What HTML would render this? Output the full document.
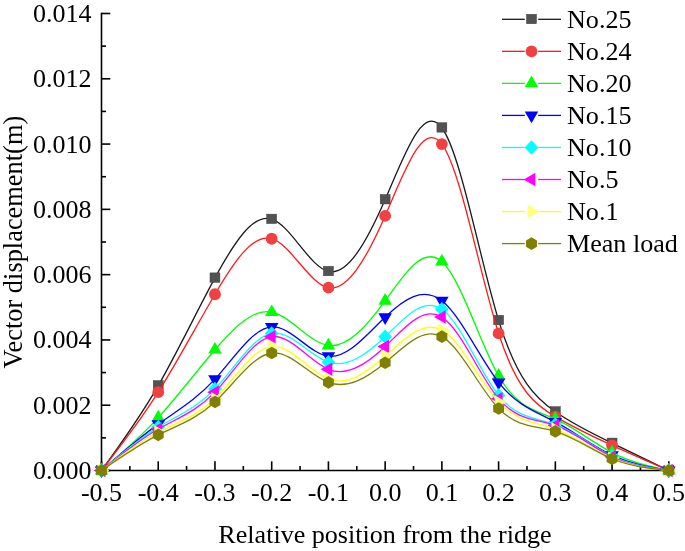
<!DOCTYPE html>
<html><head><meta charset="utf-8"><style>
html,body{margin:0;padding:0;background:#fff;}
svg{display:block;will-change:transform;}
text{font-family:"Liberation Serif",serif;font-size:26.1px;fill:#000;}
text.t{font-size:26px;}
</style></head><body>
<svg width="685" height="551" viewBox="0 0 685 551">
<rect width="685" height="551" fill="#fff"/>
<line x1="101.50" y1="12.70" x2="101.50" y2="471.30" stroke="#000" stroke-width="1.6"/>
<line x1="100.70" y1="470.50" x2="668.80" y2="470.50" stroke="#000" stroke-width="1.6"/>
<line x1="101.50" y1="470.50" x2="110.30" y2="470.50" stroke="#000" stroke-width="1.6"/>
<line x1="101.50" y1="437.86" x2="106.00" y2="437.86" stroke="#000" stroke-width="1.6"/>
<line x1="101.50" y1="405.21" x2="110.30" y2="405.21" stroke="#000" stroke-width="1.6"/>
<line x1="101.50" y1="372.57" x2="106.00" y2="372.57" stroke="#000" stroke-width="1.6"/>
<line x1="101.50" y1="339.93" x2="110.30" y2="339.93" stroke="#000" stroke-width="1.6"/>
<line x1="101.50" y1="307.29" x2="106.00" y2="307.29" stroke="#000" stroke-width="1.6"/>
<line x1="101.50" y1="274.64" x2="110.30" y2="274.64" stroke="#000" stroke-width="1.6"/>
<line x1="101.50" y1="242.00" x2="106.00" y2="242.00" stroke="#000" stroke-width="1.6"/>
<line x1="101.50" y1="209.36" x2="110.30" y2="209.36" stroke="#000" stroke-width="1.6"/>
<line x1="101.50" y1="176.71" x2="106.00" y2="176.71" stroke="#000" stroke-width="1.6"/>
<line x1="101.50" y1="144.07" x2="110.30" y2="144.07" stroke="#000" stroke-width="1.6"/>
<line x1="101.50" y1="111.43" x2="106.00" y2="111.43" stroke="#000" stroke-width="1.6"/>
<line x1="101.50" y1="78.79" x2="110.30" y2="78.79" stroke="#000" stroke-width="1.6"/>
<line x1="101.50" y1="46.14" x2="106.00" y2="46.14" stroke="#000" stroke-width="1.6"/>
<line x1="101.50" y1="13.50" x2="110.30" y2="13.50" stroke="#000" stroke-width="1.6"/>
<line x1="101.50" y1="470.50" x2="101.50" y2="461.30" stroke="#000" stroke-width="1.6"/>
<line x1="129.86" y1="470.50" x2="129.86" y2="466.00" stroke="#000" stroke-width="1.6"/>
<line x1="158.23" y1="470.50" x2="158.23" y2="461.30" stroke="#000" stroke-width="1.6"/>
<line x1="186.59" y1="470.50" x2="186.59" y2="466.00" stroke="#000" stroke-width="1.6"/>
<line x1="214.96" y1="470.50" x2="214.96" y2="461.30" stroke="#000" stroke-width="1.6"/>
<line x1="243.32" y1="470.50" x2="243.32" y2="466.00" stroke="#000" stroke-width="1.6"/>
<line x1="271.69" y1="470.50" x2="271.69" y2="461.30" stroke="#000" stroke-width="1.6"/>
<line x1="300.06" y1="470.50" x2="300.06" y2="466.00" stroke="#000" stroke-width="1.6"/>
<line x1="328.42" y1="470.50" x2="328.42" y2="461.30" stroke="#000" stroke-width="1.6"/>
<line x1="356.78" y1="470.50" x2="356.78" y2="466.00" stroke="#000" stroke-width="1.6"/>
<line x1="385.15" y1="470.50" x2="385.15" y2="461.30" stroke="#000" stroke-width="1.6"/>
<line x1="413.51" y1="470.50" x2="413.51" y2="466.00" stroke="#000" stroke-width="1.6"/>
<line x1="441.88" y1="470.50" x2="441.88" y2="461.30" stroke="#000" stroke-width="1.6"/>
<line x1="470.25" y1="470.50" x2="470.25" y2="466.00" stroke="#000" stroke-width="1.6"/>
<line x1="498.61" y1="470.50" x2="498.61" y2="461.30" stroke="#000" stroke-width="1.6"/>
<line x1="526.97" y1="470.50" x2="526.97" y2="466.00" stroke="#000" stroke-width="1.6"/>
<line x1="555.34" y1="470.50" x2="555.34" y2="461.30" stroke="#000" stroke-width="1.6"/>
<line x1="583.70" y1="470.50" x2="583.70" y2="466.00" stroke="#000" stroke-width="1.6"/>
<line x1="612.07" y1="470.50" x2="612.07" y2="461.30" stroke="#000" stroke-width="1.6"/>
<line x1="640.43" y1="470.50" x2="640.43" y2="466.00" stroke="#000" stroke-width="1.6"/>
<line x1="668.80" y1="470.50" x2="668.80" y2="461.30" stroke="#000" stroke-width="1.6"/>
<text class="t" x="91.4" y="479.00" text-anchor="end">0.000</text>
<text class="t" x="91.4" y="413.71" text-anchor="end">0.002</text>
<text class="t" x="91.4" y="348.43" text-anchor="end">0.004</text>
<text class="t" x="91.4" y="283.14" text-anchor="end">0.006</text>
<text class="t" x="91.4" y="217.86" text-anchor="end">0.008</text>
<text class="t" x="91.4" y="152.57" text-anchor="end">0.010</text>
<text class="t" x="91.4" y="87.29" text-anchor="end">0.012</text>
<text class="t" x="91.4" y="22.00" text-anchor="end">0.014</text>
<text class="t" x="101.50" y="500.5" text-anchor="middle">-0.5</text>
<text class="t" x="158.23" y="500.5" text-anchor="middle">-0.4</text>
<text class="t" x="214.96" y="500.5" text-anchor="middle">-0.3</text>
<text class="t" x="271.69" y="500.5" text-anchor="middle">-0.2</text>
<text class="t" x="328.42" y="500.5" text-anchor="middle">-0.1</text>
<text class="t" x="385.15" y="500.5" text-anchor="middle">0.0</text>
<text class="t" x="441.88" y="500.5" text-anchor="middle">0.1</text>
<text class="t" x="498.61" y="500.5" text-anchor="middle">0.2</text>
<text class="t" x="555.34" y="500.5" text-anchor="middle">0.3</text>
<text class="t" x="612.07" y="500.5" text-anchor="middle">0.4</text>
<text class="t" x="668.80" y="500.5" text-anchor="middle">0.5</text>
<text x="385" y="543" text-anchor="middle">Relative position from the ridge</text>
<text transform="translate(21.7,242.2) rotate(-90)" text-anchor="middle" style="font-size:26.4px">Vector displacement(m)</text>
<path d="M101.50,470.50 C120.41,444.53 139.32,418.57 158.23,385.63 C177.14,352.69 196.05,312.78 214.96,277.91 C233.87,243.03 252.78,213.18 271.69,219.15 C290.60,225.12 309.51,266.90 328.42,271.38 C347.33,275.86 366.24,243.02 385.15,199.56 C404.06,156.10 422.97,102.01 441.88,127.75 C460.79,153.49 479.70,259.05 498.61,320.34 C517.52,381.64 536.43,398.67 555.34,411.74 C574.25,424.82 593.16,433.95 612.07,443.08 C630.98,452.21 649.89,461.36 668.80,470.50" fill="none" stroke="#1a1a1a" stroke-width="1.3"/>
<rect x="96.55" y="465.50" width="9.90" height="9.40" fill="#525252" stroke="#3c3c3c" stroke-width="0.5"/>
<rect x="153.28" y="380.63" width="9.90" height="9.40" fill="#525252" stroke="#3c3c3c" stroke-width="0.5"/>
<rect x="210.01" y="272.91" width="9.90" height="9.40" fill="#525252" stroke="#3c3c3c" stroke-width="0.5"/>
<rect x="266.74" y="214.15" width="9.90" height="9.40" fill="#525252" stroke="#3c3c3c" stroke-width="0.5"/>
<rect x="323.47" y="266.38" width="9.90" height="9.40" fill="#525252" stroke="#3c3c3c" stroke-width="0.5"/>
<rect x="380.20" y="194.56" width="9.90" height="9.40" fill="#525252" stroke="#3c3c3c" stroke-width="0.5"/>
<rect x="436.93" y="122.75" width="9.90" height="9.40" fill="#525252" stroke="#3c3c3c" stroke-width="0.5"/>
<rect x="493.66" y="315.34" width="9.90" height="9.40" fill="#525252" stroke="#3c3c3c" stroke-width="0.5"/>
<rect x="550.39" y="406.74" width="9.90" height="9.40" fill="#525252" stroke="#3c3c3c" stroke-width="0.5"/>
<rect x="607.12" y="438.08" width="9.90" height="9.40" fill="#525252" stroke="#3c3c3c" stroke-width="0.5"/>
<rect x="663.85" y="465.50" width="9.90" height="9.40" fill="#525252" stroke="#3c3c3c" stroke-width="0.5"/>
<path d="M101.50,470.50 C120.41,446.31 139.32,422.12 158.23,392.16 C177.14,362.20 196.05,326.47 214.96,294.23 C233.87,261.99 252.78,233.24 271.69,238.74 C290.60,244.24 309.51,283.99 328.42,287.70 C347.33,291.41 366.24,259.08 385.15,215.89 C404.06,172.70 422.97,118.65 441.88,144.07 C460.79,169.49 479.70,274.38 498.61,333.40 C517.52,392.42 536.43,405.56 555.34,416.64 C574.25,427.72 593.16,436.73 612.07,445.37 C630.98,454.00 649.89,462.25 668.80,470.50" fill="none" stroke="#ff1a1a" stroke-width="1.3"/>
<circle cx="101.50" cy="470.50" r="5.9" fill="#ef4141"/>
<circle cx="158.23" cy="392.16" r="5.9" fill="#ef4141"/>
<circle cx="214.96" cy="294.23" r="5.9" fill="#ef4141"/>
<circle cx="271.69" cy="238.74" r="5.9" fill="#ef4141"/>
<circle cx="328.42" cy="287.70" r="5.9" fill="#ef4141"/>
<circle cx="385.15" cy="215.89" r="5.9" fill="#ef4141"/>
<circle cx="441.88" cy="144.07" r="5.9" fill="#ef4141"/>
<circle cx="498.61" cy="333.40" r="5.9" fill="#ef4141"/>
<circle cx="555.34" cy="416.64" r="5.9" fill="#ef4141"/>
<circle cx="612.07" cy="445.37" r="5.9" fill="#ef4141"/>
<circle cx="668.80" cy="470.50" r="5.9" fill="#ef4141"/>
<path d="M101.50,470.50 C120.41,454.37 139.32,438.24 158.23,417.62 C177.14,397.00 196.05,371.88 214.96,349.72 C233.87,327.57 252.78,308.37 271.69,312.18 C290.60,315.99 309.51,342.81 328.42,345.48 C347.33,348.14 366.24,326.65 385.15,300.76 C404.06,274.87 422.97,244.58 441.88,261.59 C460.79,278.59 479.70,342.88 498.61,375.84 C517.52,408.79 536.43,410.42 555.34,418.92 C574.25,427.43 593.16,442.80 612.07,452.55 C630.98,462.29 649.89,466.39 668.80,470.50" fill="none" stroke="#00ff00" stroke-width="1.3"/>
<polygon points="101.50,462.70 108.25,474.40 94.75,474.40" fill="#00ff00"/>
<polygon points="158.23,409.82 164.98,421.52 151.48,421.52" fill="#00ff00"/>
<polygon points="214.96,341.92 221.71,353.62 208.21,353.62" fill="#00ff00"/>
<polygon points="271.69,304.38 278.44,316.08 264.94,316.08" fill="#00ff00"/>
<polygon points="328.42,337.68 335.17,349.38 321.67,349.38" fill="#00ff00"/>
<polygon points="385.15,292.96 391.90,304.66 378.40,304.66" fill="#00ff00"/>
<polygon points="441.88,253.79 448.63,265.49 435.13,265.49" fill="#00ff00"/>
<polygon points="498.61,368.04 505.36,379.74 491.86,379.74" fill="#00ff00"/>
<polygon points="555.34,411.12 562.09,422.82 548.59,422.82" fill="#00ff00"/>
<polygon points="612.07,444.75 618.82,456.45 605.32,456.45" fill="#00ff00"/>
<polygon points="668.80,462.70 675.55,474.40 662.05,474.40" fill="#00ff00"/>
<path d="M101.50,470.50 C120.41,454.12 139.32,437.74 158.23,424.15 C177.14,410.55 196.05,399.73 214.96,379.10 C233.87,358.47 252.78,328.02 271.69,326.87 C290.60,325.72 309.51,353.87 328.42,356.25 C347.33,358.63 366.24,335.26 385.15,317.08 C404.06,298.90 422.97,285.91 441.88,300.76 C460.79,315.61 479.70,358.29 498.61,382.36 C517.52,406.44 536.43,411.90 555.34,421.86 C574.25,431.83 593.16,446.30 612.07,455.16 C630.98,464.02 649.89,467.26 668.80,470.50" fill="none" stroke="#0000ff" stroke-width="1.3"/>
<polygon points="101.50,478.30 94.75,466.60 108.25,466.60" fill="#0000ff"/>
<polygon points="158.23,431.95 151.48,420.25 164.98,420.25" fill="#0000ff"/>
<polygon points="214.96,386.90 208.21,375.20 221.71,375.20" fill="#0000ff"/>
<polygon points="271.69,334.67 264.94,322.97 278.44,322.97" fill="#0000ff"/>
<polygon points="328.42,364.05 321.67,352.35 335.17,352.35" fill="#0000ff"/>
<polygon points="385.15,324.88 378.40,313.18 391.90,313.18" fill="#0000ff"/>
<polygon points="441.88,308.56 435.13,296.86 448.63,296.86" fill="#0000ff"/>
<polygon points="498.61,390.16 491.86,378.46 505.36,378.46" fill="#0000ff"/>
<polygon points="555.34,429.66 548.59,417.96 562.09,417.96" fill="#0000ff"/>
<polygon points="612.07,462.96 605.32,451.26 618.82,451.26" fill="#0000ff"/>
<polygon points="668.80,478.30 662.05,466.60 675.55,466.60" fill="#0000ff"/>
<path d="M101.50,470.50 C120.41,454.53 139.32,438.56 158.23,427.08 C177.14,415.61 196.05,408.62 214.96,388.89 C233.87,369.17 252.78,336.70 271.69,333.40 C290.60,330.10 309.51,355.96 328.42,362.13 C347.33,368.29 366.24,354.74 385.15,336.66 C404.06,318.59 422.97,295.97 441.88,309.24 C460.79,322.52 479.70,371.67 498.61,395.42 C517.52,419.17 536.43,417.51 555.34,424.47 C574.25,431.44 593.16,447.03 612.07,456.14 C630.98,465.25 649.89,467.87 668.80,470.50" fill="none" stroke="#00ffff" stroke-width="1.3"/>
<polygon points="101.50,463.30 108.40,470.50 101.50,477.70 94.60,470.50" fill="#00ffff"/>
<polygon points="158.23,419.88 165.13,427.08 158.23,434.28 151.33,427.08" fill="#00ffff"/>
<polygon points="214.96,381.69 221.86,388.89 214.96,396.09 208.06,388.89" fill="#00ffff"/>
<polygon points="271.69,326.20 278.59,333.40 271.69,340.60 264.79,333.40" fill="#00ffff"/>
<polygon points="328.42,354.93 335.32,362.13 328.42,369.33 321.52,362.13" fill="#00ffff"/>
<polygon points="385.15,329.46 392.05,336.66 385.15,343.86 378.25,336.66" fill="#00ffff"/>
<polygon points="441.88,302.04 448.78,309.24 441.88,316.44 434.98,309.24" fill="#00ffff"/>
<polygon points="498.61,388.22 505.51,395.42 498.61,402.62 491.71,395.42" fill="#00ffff"/>
<polygon points="555.34,417.27 562.24,424.47 555.34,431.67 548.44,424.47" fill="#00ffff"/>
<polygon points="612.07,448.94 618.97,456.14 612.07,463.34 605.17,456.14" fill="#00ffff"/>
<polygon points="668.80,463.30 675.70,470.50 668.80,477.70 661.90,470.50" fill="#00ffff"/>
<path d="M101.50,470.50 C120.41,455.19 139.32,439.87 158.23,429.04 C177.14,418.22 196.05,411.87 214.96,392.16 C233.87,372.44 252.78,339.35 271.69,336.66 C290.60,333.98 309.51,361.70 328.42,369.31 C347.33,376.91 366.24,364.40 385.15,346.46 C404.06,328.52 422.97,305.15 441.88,317.08 C460.79,329.01 479.70,376.24 498.61,398.69 C517.52,421.13 536.43,418.79 555.34,425.45 C574.25,432.12 593.16,447.78 612.07,456.79 C630.98,465.80 649.89,468.15 668.80,470.50" fill="none" stroke="#ff00ff" stroke-width="1.3"/>
<polygon points="93.70,470.50 105.40,463.75 105.40,477.25" fill="#ff00ff"/>
<polygon points="150.43,429.04 162.13,422.29 162.13,435.80" fill="#ff00ff"/>
<polygon points="207.16,392.16 218.86,385.40 218.86,398.91" fill="#ff00ff"/>
<polygon points="263.89,336.66 275.59,329.91 275.59,343.42" fill="#ff00ff"/>
<polygon points="320.62,369.31 332.32,362.55 332.32,376.06" fill="#ff00ff"/>
<polygon points="377.35,346.46 389.05,339.70 389.05,353.21" fill="#ff00ff"/>
<polygon points="434.08,317.08 445.78,310.32 445.78,323.83" fill="#ff00ff"/>
<polygon points="490.81,398.69 502.51,391.93 502.51,405.44" fill="#ff00ff"/>
<polygon points="547.54,425.45 559.24,418.70 559.24,432.21" fill="#ff00ff"/>
<polygon points="604.27,456.79 615.97,450.04 615.97,463.54" fill="#ff00ff"/>
<polygon points="661.00,470.50 672.70,463.75 672.70,477.25" fill="#ff00ff"/>
<path d="M101.50,470.50 C120.41,456.12 139.32,441.73 158.23,431.98 C177.14,422.23 196.05,417.11 214.96,398.69 C233.87,380.26 252.78,348.53 271.69,346.46 C290.60,344.39 309.51,371.97 328.42,379.10 C347.33,386.23 366.24,372.90 385.15,356.25 C404.06,339.60 422.97,319.64 441.88,330.14 C460.79,340.63 479.70,381.58 498.61,401.95 C517.52,422.32 536.43,422.12 555.34,429.04 C574.25,435.96 593.16,450.00 612.07,458.10 C630.98,466.19 649.89,468.35 668.80,470.50" fill="none" stroke="#ffff00" stroke-width="1.3"/>
<polygon points="109.30,470.50 97.60,477.25 97.60,463.75" fill="#ffff80"/>
<polygon points="166.03,431.98 154.33,438.74 154.33,425.23" fill="#ffff80"/>
<polygon points="222.76,398.69 211.06,405.44 211.06,391.93" fill="#ffff80"/>
<polygon points="279.49,346.46 267.79,353.21 267.79,339.70" fill="#ffff80"/>
<polygon points="336.22,379.10 324.52,385.85 324.52,372.35" fill="#ffff80"/>
<polygon points="392.95,356.25 381.25,363.00 381.25,349.50" fill="#ffff80"/>
<polygon points="449.68,330.14 437.98,336.89 437.98,323.38" fill="#ffff80"/>
<polygon points="506.41,401.95 494.71,408.70 494.71,395.20" fill="#ffff80"/>
<polygon points="563.14,429.04 551.44,435.80 551.44,422.29" fill="#ffff80"/>
<polygon points="619.87,458.10 608.17,464.85 608.17,451.34" fill="#ffff80"/>
<polygon points="676.60,470.50 664.90,477.25 664.90,463.75" fill="#ffff80"/>
<path d="M101.50,470.50 C120.41,457.45 139.32,444.41 158.23,434.92 C177.14,425.43 196.05,419.50 214.96,401.95 C233.87,384.40 252.78,355.23 271.69,352.99 C290.60,350.74 309.51,375.41 328.42,382.36 C347.33,389.32 366.24,378.56 385.15,362.78 C404.06,347.00 422.97,326.20 441.88,336.66 C460.79,347.13 479.70,388.85 498.61,408.48 C517.52,428.11 536.43,425.64 555.34,431.33 C574.25,437.02 593.16,450.86 612.07,458.75 C630.98,466.64 649.89,468.57 668.80,470.50" fill="none" stroke="#808000" stroke-width="1.3"/>
<polygon points="101.50,464.20 106.96,467.35 106.96,473.65 101.50,476.80 96.04,473.65 96.04,467.35" fill="#808000"/>
<polygon points="158.23,428.62 163.69,431.77 163.69,438.07 158.23,441.22 152.77,438.07 152.77,431.77" fill="#808000"/>
<polygon points="214.96,395.65 220.42,398.80 220.42,405.10 214.96,408.25 209.50,405.10 209.50,398.80" fill="#808000"/>
<polygon points="271.69,346.69 277.15,349.84 277.15,356.14 271.69,359.29 266.23,356.14 266.23,349.84" fill="#808000"/>
<polygon points="328.42,376.06 333.88,379.21 333.88,385.51 328.42,388.66 322.96,385.51 322.96,379.21" fill="#808000"/>
<polygon points="385.15,356.48 390.61,359.63 390.61,365.93 385.15,369.08 379.69,365.93 379.69,359.63" fill="#808000"/>
<polygon points="441.88,330.36 447.34,333.51 447.34,339.81 441.88,342.96 436.42,339.81 436.42,333.51" fill="#808000"/>
<polygon points="498.61,402.18 504.07,405.33 504.07,411.63 498.61,414.78 493.15,411.63 493.15,405.33" fill="#808000"/>
<polygon points="555.34,425.03 560.80,428.18 560.80,434.48 555.34,437.63 549.88,434.48 549.88,428.18" fill="#808000"/>
<polygon points="612.07,452.45 617.53,455.60 617.53,461.90 612.07,465.05 606.61,461.90 606.61,455.60" fill="#808000"/>
<polygon points="668.80,464.20 674.26,467.35 674.26,473.65 668.80,476.80 663.34,473.65 663.34,467.35" fill="#808000"/>
<line x1="502" y1="19.30" x2="524.8" y2="19.30" stroke="#1a1a1a" stroke-width="1.3"/>
<line x1="538.2" y1="19.30" x2="561" y2="19.30" stroke="#1a1a1a" stroke-width="1.3"/>
<rect x="526.55" y="14.30" width="9.90" height="9.40" fill="#525252" stroke="#3c3c3c" stroke-width="0.5"/>
<text x="567" y="27.90">No.25</text>
<line x1="502" y1="51.34" x2="524.8" y2="51.34" stroke="#ff1a1a" stroke-width="1.3"/>
<line x1="538.2" y1="51.34" x2="561" y2="51.34" stroke="#ff1a1a" stroke-width="1.3"/>
<circle cx="531.50" cy="51.34" r="5.9" fill="#ef4141"/>
<text x="567" y="59.94">No.24</text>
<line x1="502" y1="83.38" x2="524.8" y2="83.38" stroke="#00ff00" stroke-width="1.3"/>
<line x1="538.2" y1="83.38" x2="561" y2="83.38" stroke="#00ff00" stroke-width="1.3"/>
<polygon points="531.50,75.58 538.25,87.28 524.75,87.28" fill="#00ff00"/>
<text x="567" y="91.98">No.20</text>
<line x1="502" y1="115.42" x2="524.8" y2="115.42" stroke="#0000ff" stroke-width="1.3"/>
<line x1="538.2" y1="115.42" x2="561" y2="115.42" stroke="#0000ff" stroke-width="1.3"/>
<polygon points="531.50,123.22 524.75,111.52 538.25,111.52" fill="#0000ff"/>
<text x="567" y="124.02">No.15</text>
<line x1="502" y1="147.46" x2="524.8" y2="147.46" stroke="#00ffff" stroke-width="1.3"/>
<line x1="538.2" y1="147.46" x2="561" y2="147.46" stroke="#00ffff" stroke-width="1.3"/>
<polygon points="531.50,140.26 538.40,147.46 531.50,154.66 524.60,147.46" fill="#00ffff"/>
<text x="567" y="156.06">No.10</text>
<line x1="502" y1="179.50" x2="524.8" y2="179.50" stroke="#ff00ff" stroke-width="1.3"/>
<line x1="538.2" y1="179.50" x2="561" y2="179.50" stroke="#ff00ff" stroke-width="1.3"/>
<polygon points="523.70,179.50 535.40,172.75 535.40,186.25" fill="#ff00ff"/>
<text x="567" y="188.10">No.5</text>
<line x1="502" y1="211.54" x2="524.8" y2="211.54" stroke="#ffff00" stroke-width="1.3"/>
<line x1="538.2" y1="211.54" x2="561" y2="211.54" stroke="#ffff00" stroke-width="1.3"/>
<polygon points="539.30,211.54 527.60,218.29 527.60,204.79" fill="#ffff80"/>
<text x="567" y="220.14">No.1</text>
<line x1="502" y1="243.58" x2="524.8" y2="243.58" stroke="#808000" stroke-width="1.3"/>
<line x1="538.2" y1="243.58" x2="561" y2="243.58" stroke="#808000" stroke-width="1.3"/>
<polygon points="531.50,237.28 536.96,240.43 536.96,246.73 531.50,249.88 526.04,246.73 526.04,240.43" fill="#808000"/>
<text x="567" y="252.18">Mean load</text>
</svg>
</body></html>
